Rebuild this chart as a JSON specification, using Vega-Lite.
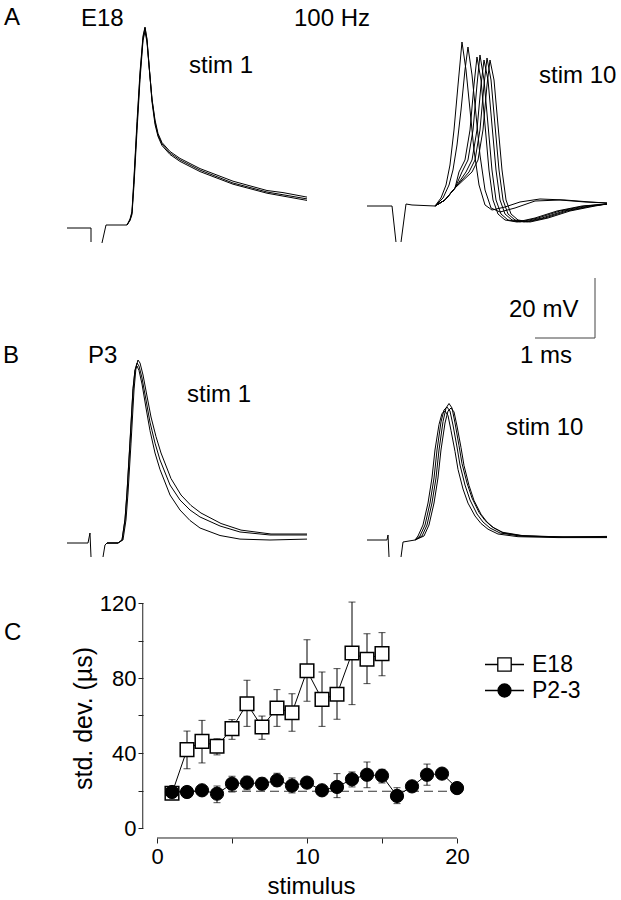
{
  "$schema": "https://vega.github.io/schema/vega-lite/v6.json",
  "width": 621,
  "height": 900,
  "autosize": {"type": "none"},
  "padding": 0,
  "background": "white",
  "config": {"view": {"stroke": null}, "font": "Liberation Sans"},
  "datasets": {
    "tracesA": [
      {"tr": "a0", "t": 0, "v": -1}, {"tr": "a0", "t": 0.4, "v": -1}, {"tr": "a0", "t": 0.4, "v": -5.67},
      {"tr": "a1", "t": 0.583, "v": -6}, {"tr": "a1", "t": 0.65, "v": 0}, {"tr": "a1", "t": 1.0, "v": 0}, {"tr": "a1", "t": 1.05, "v": 1.67}, {"tr": "a1", "t": 1.083, "v": 4}, {"tr": "a1", "t": 1.117, "v": 15}, {"tr": "a1", "t": 1.167, "v": 33.3}, {"tr": "a1", "t": 1.217, "v": 50}, {"tr": "a1", "t": 1.267, "v": 62.3}, {"tr": "a1", "t": 1.3, "v": 65.7}, {"tr": "a1", "t": 1.333, "v": 61.7}, {"tr": "a1", "t": 1.367, "v": 53.3}, {"tr": "a1", "t": 1.417, "v": 41.7}, {"tr": "a1", "t": 1.467, "v": 34.3}, {"tr": "a1", "t": 1.517, "v": 30}, {"tr": "a1", "t": 1.583, "v": 27}, {"tr": "a1", "t": 1.717, "v": 24}, {"tr": "a1", "t": 1.883, "v": 21.7}, {"tr": "a1", "t": 2.217, "v": 18.3}, {"tr": "a1", "t": 2.767, "v": 14}, {"tr": "a1", "t": 3.333, "v": 11}, {"tr": "a1", "t": 4.0, "v": 8.7},
      {"tr": "a2", "t": 1.0, "v": 0}, {"tr": "a2", "t": 1.05, "v": 1.5}, {"tr": "a2", "t": 1.083, "v": 3.5}, {"tr": "a2", "t": 1.117, "v": 13.5}, {"tr": "a2", "t": 1.167, "v": 31.5}, {"tr": "a2", "t": 1.217, "v": 48.5}, {"tr": "a2", "t": 1.267, "v": 61.5}, {"tr": "a2", "t": 1.3, "v": 64.5}, {"tr": "a2", "t": 1.333, "v": 61}, {"tr": "a2", "t": 1.367, "v": 53}, {"tr": "a2", "t": 1.417, "v": 42}, {"tr": "a2", "t": 1.467, "v": 35}, {"tr": "a2", "t": 1.517, "v": 30.5}, {"tr": "a2", "t": 1.583, "v": 27.5}, {"tr": "a2", "t": 1.717, "v": 24.5}, {"tr": "a2", "t": 1.883, "v": 22.2}, {"tr": "a2", "t": 2.217, "v": 18.8}, {"tr": "a2", "t": 2.767, "v": 14.6}, {"tr": "a2", "t": 3.333, "v": 11.5}, {"tr": "a2", "t": 3.6, "v": 10.8}, {"tr": "a2", "t": 4.0, "v": 9.3},
      {"tr": "a3", "t": 1.0, "v": 0}, {"tr": "a3", "t": 1.05, "v": 2}, {"tr": "a3", "t": 1.083, "v": 4.5}, {"tr": "a3", "t": 1.117, "v": 16}, {"tr": "a3", "t": 1.167, "v": 34.5}, {"tr": "a3", "t": 1.217, "v": 51}, {"tr": "a3", "t": 1.267, "v": 63}, {"tr": "a3", "t": 1.3, "v": 66}, {"tr": "a3", "t": 1.333, "v": 62}, {"tr": "a3", "t": 1.367, "v": 53.5}, {"tr": "a3", "t": 1.417, "v": 41}, {"tr": "a3", "t": 1.467, "v": 33.5}, {"tr": "a3", "t": 1.517, "v": 29.5}, {"tr": "a3", "t": 1.583, "v": 26.5}, {"tr": "a3", "t": 1.717, "v": 23.5}, {"tr": "a3", "t": 1.883, "v": 21.2}, {"tr": "a3", "t": 2.217, "v": 17.8}, {"tr": "a3", "t": 2.767, "v": 13.6}, {"tr": "a3", "t": 3.333, "v": 10.6}, {"tr": "a3", "t": 4.0, "v": 8.2},
      {"tr": "b0", "t": 5.0, "v": 6.33}, {"tr": "b0", "t": 5.417, "v": 6.33}, {"tr": "b0", "t": 5.483, "v": -5.67},
      {"tr": "b0p", "t": 5.567, "v": -5.67}, {"tr": "b0p", "t": 5.65, "v": 7}, {"tr": "b0p", "t": 5.75, "v": 6.67}, {"tr": "b0p", "t": 6.133, "v": 6.33},
      {"tr": "e1", "t": 6.133, "v": 6.33}, {"tr": "e1", "t": 6.233, "v": 9}, {"tr": "e1", "t": 6.317, "v": 13.33}, {"tr": "e1", "t": 6.383, "v": 20}, {"tr": "e1", "t": 6.45, "v": 31.67}, {"tr": "e1", "t": 6.517, "v": 46.67}, {"tr": "e1", "t": 6.583, "v": 61}, {"tr": "e1", "t": 6.65, "v": 51.67}, {"tr": "e1", "t": 6.717, "v": 38.33}, {"tr": "e1", "t": 6.783, "v": 25}, {"tr": "e1", "t": 6.867, "v": 13.33}, {"tr": "e1", "t": 6.967, "v": 6.67}, {"tr": "e1", "t": 7.083, "v": 5}, {"tr": "e1", "t": 7.3, "v": 6}, {"tr": "e1", "t": 7.55, "v": 7.67}, {"tr": "e1", "t": 7.883, "v": 8.67}, {"tr": "e1", "t": 8.3, "v": 8.33}, {"tr": "e1", "t": 8.717, "v": 7.67}, {"tr": "e1", "t": 9.0, "v": 7.33},
      {"tr": "e2", "t": 6.133, "v": 6.33}, {"tr": "e2", "t": 6.267, "v": 9}, {"tr": "e2", "t": 6.367, "v": 13.33}, {"tr": "e2", "t": 6.433, "v": 18.33}, {"tr": "e2", "t": 6.5, "v": 26.67}, {"tr": "e2", "t": 6.567, "v": 38.33}, {"tr": "e2", "t": 6.633, "v": 51.67}, {"tr": "e2", "t": 6.683, "v": 59.33}, {"tr": "e2", "t": 6.75, "v": 50}, {"tr": "e2", "t": 6.817, "v": 36.67}, {"tr": "e2", "t": 6.883, "v": 23.33}, {"tr": "e2", "t": 6.967, "v": 11.67}, {"tr": "e2", "t": 7.067, "v": 5.67}, {"tr": "e2", "t": 7.217, "v": 4.33}, {"tr": "e2", "t": 7.467, "v": 5.67}, {"tr": "e2", "t": 7.8, "v": 8}, {"tr": "e2", "t": 8.217, "v": 8.33}, {"tr": "e2", "t": 8.633, "v": 7.67}, {"tr": "e2", "t": 9.0, "v": 7.33},
      {"tr": "m1", "t": 6.133, "v": 6.33}, {"tr": "m1", "t": 6.3, "v": 8.33}, {"tr": "m1", "t": 6.467, "v": 12.33}, {"tr": "m1", "t": 6.533, "v": 17.67}, {"tr": "m1", "t": 6.633, "v": 21.67}, {"tr": "m1", "t": 6.717, "v": 31.67}, {"tr": "m1", "t": 6.783, "v": 46.67}, {"tr": "m1", "t": 6.833, "v": 56}, {"tr": "m1", "t": 6.9, "v": 48.33}, {"tr": "m1", "t": 6.967, "v": 33.33}, {"tr": "m1", "t": 7.033, "v": 18.33}, {"tr": "m1", "t": 7.1, "v": 8.33}, {"tr": "m1", "t": 7.183, "v": 3.67}, {"tr": "m1", "t": 7.3, "v": 1.67}, {"tr": "m1", "t": 7.5, "v": 1}, {"tr": "m1", "t": 7.8, "v": 2.33}, {"tr": "m1", "t": 8.167, "v": 4.67}, {"tr": "m1", "t": 8.583, "v": 6.33}, {"tr": "m1", "t": 9.0, "v": 7},
      {"tr": "m2", "t": 6.133, "v": 6.33}, {"tr": "m2", "t": 6.3, "v": 8.33}, {"tr": "m2", "t": 6.467, "v": 12.33}, {"tr": "m2", "t": 6.583, "v": 17.67}, {"tr": "m2", "t": 6.683, "v": 21.67}, {"tr": "m2", "t": 6.767, "v": 31.67}, {"tr": "m2", "t": 6.833, "v": 46.67}, {"tr": "m2", "t": 6.883, "v": 56.67}, {"tr": "m2", "t": 6.95, "v": 48.33}, {"tr": "m2", "t": 7.017, "v": 33.33}, {"tr": "m2", "t": 7.083, "v": 18.33}, {"tr": "m2", "t": 7.15, "v": 8.33}, {"tr": "m2", "t": 7.233, "v": 3.67}, {"tr": "m2", "t": 7.35, "v": 1.67}, {"tr": "m2", "t": 7.55, "v": 1}, {"tr": "m2", "t": 7.85, "v": 2.33}, {"tr": "m2", "t": 8.217, "v": 4.67}, {"tr": "m2", "t": 8.633, "v": 6.33}, {"tr": "m2", "t": 9.0, "v": 7},
      {"tr": "m3", "t": 6.133, "v": 6.33}, {"tr": "m3", "t": 6.3, "v": 8.33}, {"tr": "m3", "t": 6.467, "v": 12.33}, {"tr": "m3", "t": 6.65, "v": 17.67}, {"tr": "m3", "t": 6.75, "v": 21.67}, {"tr": "m3", "t": 6.833, "v": 31.67}, {"tr": "m3", "t": 6.9, "v": 46.67}, {"tr": "m3", "t": 6.95, "v": 55}, {"tr": "m3", "t": 7.017, "v": 48.33}, {"tr": "m3", "t": 7.083, "v": 33.33}, {"tr": "m3", "t": 7.15, "v": 18.33}, {"tr": "m3", "t": 7.217, "v": 8.33}, {"tr": "m3", "t": 7.3, "v": 3.67}, {"tr": "m3", "t": 7.417, "v": 1.67}, {"tr": "m3", "t": 7.617, "v": 1}, {"tr": "m3", "t": 7.917, "v": 2.33}, {"tr": "m3", "t": 8.283, "v": 4.67}, {"tr": "m3", "t": 8.7, "v": 6.33}, {"tr": "m3", "t": 9.0, "v": 7},
      {"tr": "m4", "t": 6.133, "v": 6.33}, {"tr": "m4", "t": 6.3, "v": 8.33}, {"tr": "m4", "t": 6.467, "v": 12.33}, {"tr": "m4", "t": 6.7, "v": 17.67}, {"tr": "m4", "t": 6.8, "v": 21.67}, {"tr": "m4", "t": 6.883, "v": 31.67}, {"tr": "m4", "t": 6.95, "v": 46.67}, {"tr": "m4", "t": 7.0, "v": 55.67}, {"tr": "m4", "t": 7.067, "v": 48.33}, {"tr": "m4", "t": 7.133, "v": 33.33}, {"tr": "m4", "t": 7.2, "v": 18.33}, {"tr": "m4", "t": 7.267, "v": 8.33}, {"tr": "m4", "t": 7.35, "v": 3.67}, {"tr": "m4", "t": 7.467, "v": 1.67}, {"tr": "m4", "t": 7.667, "v": 1}, {"tr": "m4", "t": 7.967, "v": 2.33}, {"tr": "m4", "t": 8.333, "v": 4.67}, {"tr": "m4", "t": 8.75, "v": 6.33}, {"tr": "m4", "t": 9.0, "v": 7},
      {"tr": "m5", "t": 6.133, "v": 6.33}, {"tr": "m5", "t": 6.3, "v": 8.33}, {"tr": "m5", "t": 6.467, "v": 12.33}, {"tr": "m5", "t": 6.75, "v": 17.67}, {"tr": "m5", "t": 6.85, "v": 21.67}, {"tr": "m5", "t": 6.933, "v": 31.67}, {"tr": "m5", "t": 7.0, "v": 46.67}, {"tr": "m5", "t": 7.05, "v": 55}, {"tr": "m5", "t": 7.117, "v": 48.33}, {"tr": "m5", "t": 7.183, "v": 33.33}, {"tr": "m5", "t": 7.25, "v": 18.33}, {"tr": "m5", "t": 7.317, "v": 8.33}, {"tr": "m5", "t": 7.4, "v": 3.67}, {"tr": "m5", "t": 7.517, "v": 1.67}, {"tr": "m5", "t": 7.717, "v": 1}, {"tr": "m5", "t": 8.017, "v": 2.33}, {"tr": "m5", "t": 8.383, "v": 4.67}, {"tr": "m5", "t": 8.8, "v": 6.33}, {"tr": "m5", "t": 9.0, "v": 7}
    ],
    "tracesB": [
      {"tr": "p0", "t": 0, "v": 0}, {"tr": "p0", "t": 0.35, "v": 0}, {"tr": "p0", "t": 0.383, "v": 3.33}, {"tr": "p0", "t": 0.4, "v": -4.67},
      {"tr": "p0p", "t": 0.6, "v": -4.67}, {"tr": "p0p", "t": 0.633, "v": -0.67}, {"tr": "p0p", "t": 0.667, "v": 0},
      {"tr": "b1", "t": 0.667, "v": 0}, {"tr": "b1", "t": 0.85, "v": 0}, {"tr": "b1", "t": 0.917, "v": 1}, {"tr": "b1", "t": 0.967, "v": 7.67}, {"tr": "b1", "t": 1.0, "v": 16.67}, {"tr": "b1", "t": 1.05, "v": 33.3}, {"tr": "b1", "t": 1.1, "v": 51}, {"tr": "b1", "t": 1.133, "v": 57.67}, {"tr": "b1", "t": 1.167, "v": 60}, {"tr": "b1", "t": 1.2, "v": 59}, {"tr": "b1", "t": 1.25, "v": 55}, {"tr": "b1", "t": 1.317, "v": 47.67}, {"tr": "b1", "t": 1.383, "v": 40.3}, {"tr": "b1", "t": 1.467, "v": 33.3}, {"tr": "b1", "t": 1.55, "v": 27.67}, {"tr": "b1", "t": 1.717, "v": 19.33}, {"tr": "b1", "t": 1.883, "v": 14.33}, {"tr": "b1", "t": 2.05, "v": 11}, {"tr": "b1", "t": 2.217, "v": 8.67}, {"tr": "b1", "t": 2.55, "v": 5.67}, {"tr": "b1", "t": 2.883, "v": 3.67}, {"tr": "b1", "t": 3.383, "v": 2.67}, {"tr": "b1", "t": 4.0, "v": 2.67},
      {"tr": "b2", "t": 0.667, "v": 0}, {"tr": "b2", "t": 0.85, "v": 0}, {"tr": "b2", "t": 0.933, "v": 1}, {"tr": "b2", "t": 0.983, "v": 7.67}, {"tr": "b2", "t": 1.017, "v": 16.67}, {"tr": "b2", "t": 1.067, "v": 33.3}, {"tr": "b2", "t": 1.117, "v": 51}, {"tr": "b2", "t": 1.15, "v": 58.5}, {"tr": "b2", "t": 1.183, "v": 61}, {"tr": "b2", "t": 1.217, "v": 60}, {"tr": "b2", "t": 1.267, "v": 56}, {"tr": "b2", "t": 1.333, "v": 49}, {"tr": "b2", "t": 1.4, "v": 42}, {"tr": "b2", "t": 1.483, "v": 35.5}, {"tr": "b2", "t": 1.567, "v": 30}, {"tr": "b2", "t": 1.733, "v": 21.5}, {"tr": "b2", "t": 1.9, "v": 16}, {"tr": "b2", "t": 2.067, "v": 12.5}, {"tr": "b2", "t": 2.233, "v": 10}, {"tr": "b2", "t": 2.567, "v": 6.5}, {"tr": "b2", "t": 2.9, "v": 4.3}, {"tr": "b2", "t": 3.4, "v": 3}, {"tr": "b2", "t": 4.0, "v": 3},
      {"tr": "b3", "t": 0.667, "v": 0}, {"tr": "b3", "t": 0.85, "v": 0}, {"tr": "b3", "t": 0.917, "v": 1}, {"tr": "b3", "t": 0.967, "v": 8}, {"tr": "b3", "t": 1.0, "v": 17}, {"tr": "b3", "t": 1.05, "v": 34}, {"tr": "b3", "t": 1.1, "v": 51.5}, {"tr": "b3", "t": 1.133, "v": 57.5}, {"tr": "b3", "t": 1.167, "v": 59}, {"tr": "b3", "t": 1.2, "v": 57.5}, {"tr": "b3", "t": 1.25, "v": 53}, {"tr": "b3", "t": 1.317, "v": 45}, {"tr": "b3", "t": 1.383, "v": 37.5}, {"tr": "b3", "t": 1.467, "v": 30}, {"tr": "b3", "t": 1.55, "v": 24.5}, {"tr": "b3", "t": 1.717, "v": 16}, {"tr": "b3", "t": 1.883, "v": 11}, {"tr": "b3", "t": 2.05, "v": 7.5}, {"tr": "b3", "t": 2.217, "v": 5}, {"tr": "b3", "t": 2.55, "v": 2.5}, {"tr": "b3", "t": 2.883, "v": 1.3}, {"tr": "b3", "t": 3.383, "v": 1}, {"tr": "b3", "t": 4.0, "v": 1.3},
      {"tr": "q0", "t": 5.0, "v": 1}, {"tr": "q0", "t": 5.333, "v": 1}, {"tr": "q0", "t": 5.35, "v": 2.67}, {"tr": "q0", "t": 5.367, "v": -4.67},
      {"tr": "q0p", "t": 5.567, "v": -4.67}, {"tr": "q0p", "t": 5.6, "v": 0.33}, {"tr": "q0p", "t": 5.8, "v": 1},
      {"tr": "c1", "t": 5.8, "v": 1}, {"tr": "c1", "t": 5.883, "v": 2.33}, {"tr": "c1", "t": 5.967, "v": 6}, {"tr": "c1", "t": 6.05, "v": 13.33}, {"tr": "c1", "t": 6.117, "v": 21.67}, {"tr": "c1", "t": 6.167, "v": 31}, {"tr": "c1", "t": 6.233, "v": 40.33}, {"tr": "c1", "t": 6.283, "v": 44.33}, {"tr": "c1", "t": 6.333, "v": 45.33}, {"tr": "c1", "t": 6.383, "v": 44}, {"tr": "c1", "t": 6.433, "v": 39.33}, {"tr": "c1", "t": 6.5, "v": 32}, {"tr": "c1", "t": 6.55, "v": 26}, {"tr": "c1", "t": 6.633, "v": 19.33}, {"tr": "c1", "t": 6.717, "v": 14.33}, {"tr": "c1", "t": 6.833, "v": 9.67}, {"tr": "c1", "t": 6.933, "v": 7}, {"tr": "c1", "t": 7.05, "v": 5}, {"tr": "c1", "t": 7.217, "v": 3.33}, {"tr": "c1", "t": 7.55, "v": 2.33}, {"tr": "c1", "t": 8.217, "v": 2}, {"tr": "c1", "t": 9.0, "v": 2},
      {"tr": "c2", "t": 5.8, "v": 1}, {"tr": "c2", "t": 5.917, "v": 2.33}, {"tr": "c2", "t": 6.0, "v": 6}, {"tr": "c2", "t": 6.083, "v": 13.33}, {"tr": "c2", "t": 6.15, "v": 21.67}, {"tr": "c2", "t": 6.2, "v": 31}, {"tr": "c2", "t": 6.267, "v": 40.5}, {"tr": "c2", "t": 6.317, "v": 45}, {"tr": "c2", "t": 6.367, "v": 46.5}, {"tr": "c2", "t": 6.417, "v": 45}, {"tr": "c2", "t": 6.467, "v": 40}, {"tr": "c2", "t": 6.533, "v": 32.5}, {"tr": "c2", "t": 6.583, "v": 26.5}, {"tr": "c2", "t": 6.667, "v": 20}, {"tr": "c2", "t": 6.75, "v": 15}, {"tr": "c2", "t": 6.867, "v": 10.2}, {"tr": "c2", "t": 6.967, "v": 7.5}, {"tr": "c2", "t": 7.083, "v": 5.4}, {"tr": "c2", "t": 7.25, "v": 3.6}, {"tr": "c2", "t": 7.583, "v": 2.5}, {"tr": "c2", "t": 8.25, "v": 2}, {"tr": "c2", "t": 9.0, "v": 2},
      {"tr": "c3", "t": 5.8, "v": 1}, {"tr": "c3", "t": 5.85, "v": 2.33}, {"tr": "c3", "t": 5.933, "v": 6}, {"tr": "c3", "t": 6.017, "v": 13.33}, {"tr": "c3", "t": 6.083, "v": 21.67}, {"tr": "c3", "t": 6.133, "v": 31}, {"tr": "c3", "t": 6.2, "v": 39.5}, {"tr": "c3", "t": 6.25, "v": 43.2}, {"tr": "c3", "t": 6.3, "v": 44}, {"tr": "c3", "t": 6.35, "v": 42.5}, {"tr": "c3", "t": 6.4, "v": 37.5}, {"tr": "c3", "t": 6.467, "v": 30.5}, {"tr": "c3", "t": 6.517, "v": 24.5}, {"tr": "c3", "t": 6.6, "v": 18}, {"tr": "c3", "t": 6.683, "v": 13.3}, {"tr": "c3", "t": 6.8, "v": 9}, {"tr": "c3", "t": 6.9, "v": 6.5}, {"tr": "c3", "t": 7.017, "v": 4.6}, {"tr": "c3", "t": 7.183, "v": 3}, {"tr": "c3", "t": 7.517, "v": 2.1}, {"tr": "c3", "t": 8.183, "v": 1.8}, {"tr": "c3", "t": 9.0, "v": 1.8},
      {"tr": "c4", "t": 5.8, "v": 1}, {"tr": "c4", "t": 5.95, "v": 2.33}, {"tr": "c4", "t": 6.033, "v": 6}, {"tr": "c4", "t": 6.117, "v": 13.33}, {"tr": "c4", "t": 6.183, "v": 21.67}, {"tr": "c4", "t": 6.233, "v": 31}, {"tr": "c4", "t": 6.3, "v": 40}, {"tr": "c4", "t": 6.35, "v": 44}, {"tr": "c4", "t": 6.4, "v": 45}, {"tr": "c4", "t": 6.45, "v": 43.7}, {"tr": "c4", "t": 6.5, "v": 39}, {"tr": "c4", "t": 6.567, "v": 31.8}, {"tr": "c4", "t": 6.617, "v": 25.8}, {"tr": "c4", "t": 6.7, "v": 19.2}, {"tr": "c4", "t": 6.783, "v": 14.2}, {"tr": "c4", "t": 6.9, "v": 9.6}, {"tr": "c4", "t": 7.0, "v": 7}, {"tr": "c4", "t": 7.117, "v": 5}, {"tr": "c4", "t": 7.283, "v": 3.3}, {"tr": "c4", "t": 7.617, "v": 2.3}, {"tr": "c4", "t": 8.283, "v": 2}, {"tr": "c4", "t": 9.0, "v": 2.2}
    ],
    "textA": [
      {"t": -1.05, "v": 66.83, "label": "A"},
      {"t": 0.233, "v": 66.5, "label": "E18"},
      {"t": 3.783, "v": 66.5, "label": "100 Hz"},
      {"t": 2.033, "v": 50.67, "label": "stim 1"},
      {"t": 7.867, "v": 47.33, "label": "stim 10"}
    ],
    "textB": [
      {"t": -1.067, "v": 60, "label": "B"},
      {"t": 0.35, "v": 60, "label": "P3"},
      {"t": 2.0, "v": 47, "label": "stim 1"},
      {"t": 7.317, "v": 36, "label": "stim 10"},
      {"t": 7.367, "v": 75.33, "label": "20 mV"},
      {"t": 7.55, "v": 60, "label": "1 ms"}
    ],
    "scaleBar": [
      {"t": 8.8, "t2": 8.8, "v": 68.33, "v2": 88.33},
      {"t": 7.8, "t2": 8.8, "v": 68.33, "v2": 68.33}
    ],
    "axisLines": [
      {"s": -0.95, "s2": -0.95, "m": 0, "m2": 120},
      {"s": 0, "s2": 20, "m": -5.33, "m2": -5.33}
    ],
    "dashed": [{"s": 1, "s2": 19.8, "m": 19.6}],
    "textC": [{"s": -10.2, "m": 100.3, "label": "C"}],
    "jitter": [
      {"g": "E18", "s": 1, "m": 18.5},
      {"g": "E18", "s": 2, "m": 41.8, "lo": 31.6, "hi": 51.7},
      {"g": "E18", "s": 3, "m": 46.2, "lo": 34.7, "hi": 57.4},
      {"g": "E18", "s": 4, "m": 43.6, "lo": 39, "hi": 47.6},
      {"g": "E18", "s": 5, "m": 53, "lo": 47.3, "hi": 57.8},
      {"g": "E18", "s": 6, "m": 66.3, "lo": 54.2, "hi": 78.8},
      {"g": "E18", "s": 7, "m": 53.9, "lo": 47.3, "hi": 59.7},
      {"g": "E18", "s": 8, "m": 64, "lo": 54.2, "hi": 73.8},
      {"g": "E18", "s": 9, "m": 61.5, "lo": 51.6, "hi": 71.6},
      {"g": "E18", "s": 10, "m": 83.9, "lo": 67.6, "hi": 100.4},
      {"g": "E18", "s": 11, "m": 68.6, "lo": 54.2, "hi": 83.2},
      {"g": "E18", "s": 12, "m": 71.3, "lo": 58, "hi": 85},
      {"g": "E18", "s": 13, "m": 93.3, "lo": 65.8, "hi": 120.5},
      {"g": "E18", "s": 14, "m": 90, "lo": 77, "hi": 103.6},
      {"g": "E18", "s": 15, "m": 93, "lo": 81.2, "hi": 104.2},
      {"g": "P2-3", "s": 1, "m": 19.2},
      {"g": "P2-3", "s": 2, "m": 19.2},
      {"g": "P2-3", "s": 3, "m": 20.1},
      {"g": "P2-3", "s": 4, "m": 18.3, "lo": 13.5, "hi": 22.4},
      {"g": "P2-3", "s": 5, "m": 23.6, "lo": 19.2, "hi": 27.6},
      {"g": "P2-3", "s": 6, "m": 24.2, "lo": 20.4, "hi": 27.6},
      {"g": "P2-3", "s": 7, "m": 23.6, "lo": 20.4, "hi": 26.7},
      {"g": "P2-3", "s": 8, "m": 25.4, "lo": 22.2, "hi": 29.2},
      {"g": "P2-3", "s": 9, "m": 22.6, "lo": 18.7, "hi": 26.7},
      {"g": "P2-3", "s": 10, "m": 24.2},
      {"g": "P2-3", "s": 11, "m": 20.1},
      {"g": "P2-3", "s": 12, "m": 21.9, "lo": 16.2, "hi": 29},
      {"g": "P2-3", "s": 13, "m": 26, "lo": 21.9, "hi": 29.9},
      {"g": "P2-3", "s": 14, "m": 28.4, "lo": 21.5, "hi": 35.2},
      {"g": "P2-3", "s": 15, "m": 27.9, "lo": 24, "hi": 31.3},
      {"g": "P2-3", "s": 16, "m": 17.1, "lo": 13, "hi": 21.5},
      {"g": "P2-3", "s": 17, "m": 22.2},
      {"g": "P2-3", "s": 18, "m": 28.4, "lo": 22.8, "hi": 34.1},
      {"g": "P2-3", "s": 19, "m": 29},
      {"g": "P2-3", "s": 20, "m": 21.3}
    ]
  },
  "layer": [
    {
      "encoding": {
        "x": {"field": "t", "type": "quantitative", "scale": {"domain": [-1.1167, 9.2333], "nice": false, "zero": false}, "axis": null},
        "y": {"field": "v", "type": "quantitative", "scale": {"domain": [-225, 75], "nice": false, "zero": false}, "axis": null}
      },
      "layer": [
        {"data": {"name": "tracesA"}, "mark": {"type": "line", "color": "black", "strokeWidth": 1}, "encoding": {"detail": {"field": "tr", "type": "nominal"}}},
        {"data": {"name": "textA"}, "mark": {"type": "text", "align": "left", "baseline": "alphabetic", "fontSize": 24, "font": "Liberation Sans", "color": "black"}, "encoding": {"text": {"field": "label", "type": "nominal"}}}
      ]
    },
    {
      "encoding": {
        "x": {"field": "t", "type": "quantitative", "scale": {"domain": [-1.1167, 9.2333], "nice": false, "zero": false}, "axis": null},
        "y": {"field": "v", "type": "quantitative", "scale": {"domain": [-119, 181], "nice": false, "zero": false}, "axis": null}
      },
      "layer": [
        {"data": {"name": "tracesB"}, "mark": {"type": "line", "color": "black", "strokeWidth": 1}, "encoding": {"detail": {"field": "tr", "type": "nominal"}}},
        {"data": {"name": "scaleBar"}, "mark": {"type": "rule", "color": "#444", "strokeWidth": 1}, "encoding": {"x2": {"field": "t2"}, "y2": {"field": "v2"}}},
        {"data": {"name": "textB"}, "mark": {"type": "text", "align": "left", "baseline": "alphabetic", "fontSize": 24, "font": "Liberation Sans", "color": "black"}, "encoding": {"text": {"field": "label", "type": "nominal"}}}
      ]
    },
    {
      "encoding": {
        "x": {
          "field": "s", "type": "quantitative",
          "scale": {"domain": [-10.4667, 30.9333], "nice": false, "zero": false},
          "axis": {
            "orient": "bottom", "offset": -62, "domain": false, "grid": false,
            "values": [0, 5, 10, 15, 20],
            "labelExpr": "datum.value % 10 === 0 ? datum.label : ''",
            "tickSize": 5, "tickColor": "#222", "tickWidth": 1,
            "labelFontSize": 22, "labelFont": "Liberation Sans", "labelColor": "black", "labelPadding": 3,
            "labelOverlap": false, "labelFlush": false,
            "title": "stimulus", "titleFontSize": 24, "titleFont": "Liberation Sans", "titleFontWeight": "normal", "titleColor": "black",
            "titleX": 311, "titleY": 55, "titleAlign": "center", "titleBaseline": "alphabetic"
          }
        },
        "y": {
          "field": "m", "type": "quantitative",
          "scale": {"domain": [-38.4, 441.6], "nice": false, "zero": false},
          "axis": {
            "orient": "left", "offset": -143, "domain": false, "grid": false,
            "values": [0, 20, 40, 60, 80, 100, 120],
            "labelExpr": "datum.value % 40 === 0 ? datum.label : ''",
            "tickSize": 5, "tickColor": "#222", "tickWidth": 1,
            "labelFontSize": 22, "labelFont": "Liberation Sans", "labelColor": "black", "labelPadding": 2,
            "labelOverlap": false, "labelFlush": false,
            "title": "std. dev. (µs)", "titleFontSize": 25, "titleFont": "Liberation Sans", "titleFontWeight": "normal", "titleColor": "black",
            "titleX": -60, "titleY": 718, "titleAngle": 270, "titleAlign": "center", "titleBaseline": "middle"
          }
        }
      },
      "layer": [
        {"data": {"name": "axisLines"}, "mark": {"type": "rule", "color": "#222", "strokeWidth": 1}, "encoding": {"x2": {"field": "s2"}, "y2": {"field": "m2"}}},
        {"data": {"name": "dashed"}, "mark": {"type": "rule", "color": "#333", "strokeWidth": 1, "strokeDash": [9, 5]}, "encoding": {"x2": {"field": "s2"}}},
        {"data": {"name": "jitter"}, "mark": {"type": "line", "color": "black", "strokeWidth": 1}, "encoding": {"detail": {"field": "g", "type": "nominal"}}},
        {
          "data": {"name": "jitter"},
          "transform": [{"filter": "isValid(datum.lo)"}],
          "mark": {"type": "errorbar", "color": "black", "ticks": {"size": 7, "color": "black"}, "rule": {"strokeWidth": 1}},
          "encoding": {
            "y": {
              "field": "lo", "type": "quantitative",
              "scale": {"domain": [-38.4, 441.6], "nice": false, "zero": false},
              "axis": {
                "orient": "left", "offset": -143, "domain": false, "grid": false,
                "values": [0, 20, 40, 60, 80, 100, 120],
                "labelExpr": "datum.value % 40 === 0 ? datum.label : ''",
                "tickSize": 5, "tickColor": "#222", "tickWidth": 1,
                "labelFontSize": 22, "labelFont": "Liberation Sans", "labelColor": "black", "labelPadding": 2,
                "labelOverlap": false, "labelFlush": false,
                "title": "std. dev. (µs)", "titleFontSize": 25, "titleFont": "Liberation Sans", "titleFontWeight": "normal", "titleColor": "black",
                "titleX": -60, "titleY": 718, "titleAngle": 270, "titleAlign": "center", "titleBaseline": "middle"
              }
            },
            "y2": {"field": "hi"}
          }
        },
        {"data": {"name": "jitter"}, "transform": [{"filter": "datum.g === 'E18'"}], "mark": {"type": "point", "shape": "square", "size": 185, "filled": true, "fill": "white", "stroke": "black", "strokeWidth": 1.5, "opacity": 1}},
        {"data": {"name": "jitter"}, "transform": [{"filter": "datum.g === 'P2-3'"}], "mark": {"type": "point", "shape": "circle", "size": 175, "filled": true, "fill": "black", "stroke": "black", "strokeWidth": 1, "opacity": 1}},
        {
          "data": {"name": "jitter"},
          "mark": {"type": "point", "filled": true, "opacity": 0, "strokeWidth": 1.3},
          "encoding": {
            "shape": {
              "field": "g", "type": "nominal",
              "scale": {"domain": ["E18", "P2-3"], "range": ["M-1.95,0H-0.67M0.67,0H1.95M-0.67,-0.67H0.67V0.67H-0.67Z", "M-1.95,0H-0.65M0.65,0H1.95M-0.65,0A0.65,0.65 0 1 0 0.65,0A0.65,0.65 0 1 0 -0.65,0Z"]},
              "legend": {
                "title": null, "orient": "none", "legendX": 493, "legendY": 653, "padding": 0,
                "symbolSize": 400, "symbolStrokeWidth": 1.3, "symbolOpacity": 1,
                "labelFontSize": 23, "labelFont": "Liberation Sans", "labelColor": "black", "labelOffset": 16, "rowPadding": 2
              }
            },
            "fill": {"field": "g", "type": "nominal", "scale": {"domain": ["E18", "P2-3"], "range": ["white", "black"]}},
            "stroke": {"field": "g", "type": "nominal", "scale": {"domain": ["E18", "P2-3"], "range": ["black", "black"]}}
          }
        },
        {"data": {"name": "textC"}, "mark": {"type": "text", "align": "left", "baseline": "alphabetic", "fontSize": 24, "font": "Liberation Sans", "color": "black"}, "encoding": {"text": {"field": "label", "type": "nominal"}}}
      ]
    }
  ],
  "resolve": {"scale": {"x": "independent", "y": "independent"}}
}
